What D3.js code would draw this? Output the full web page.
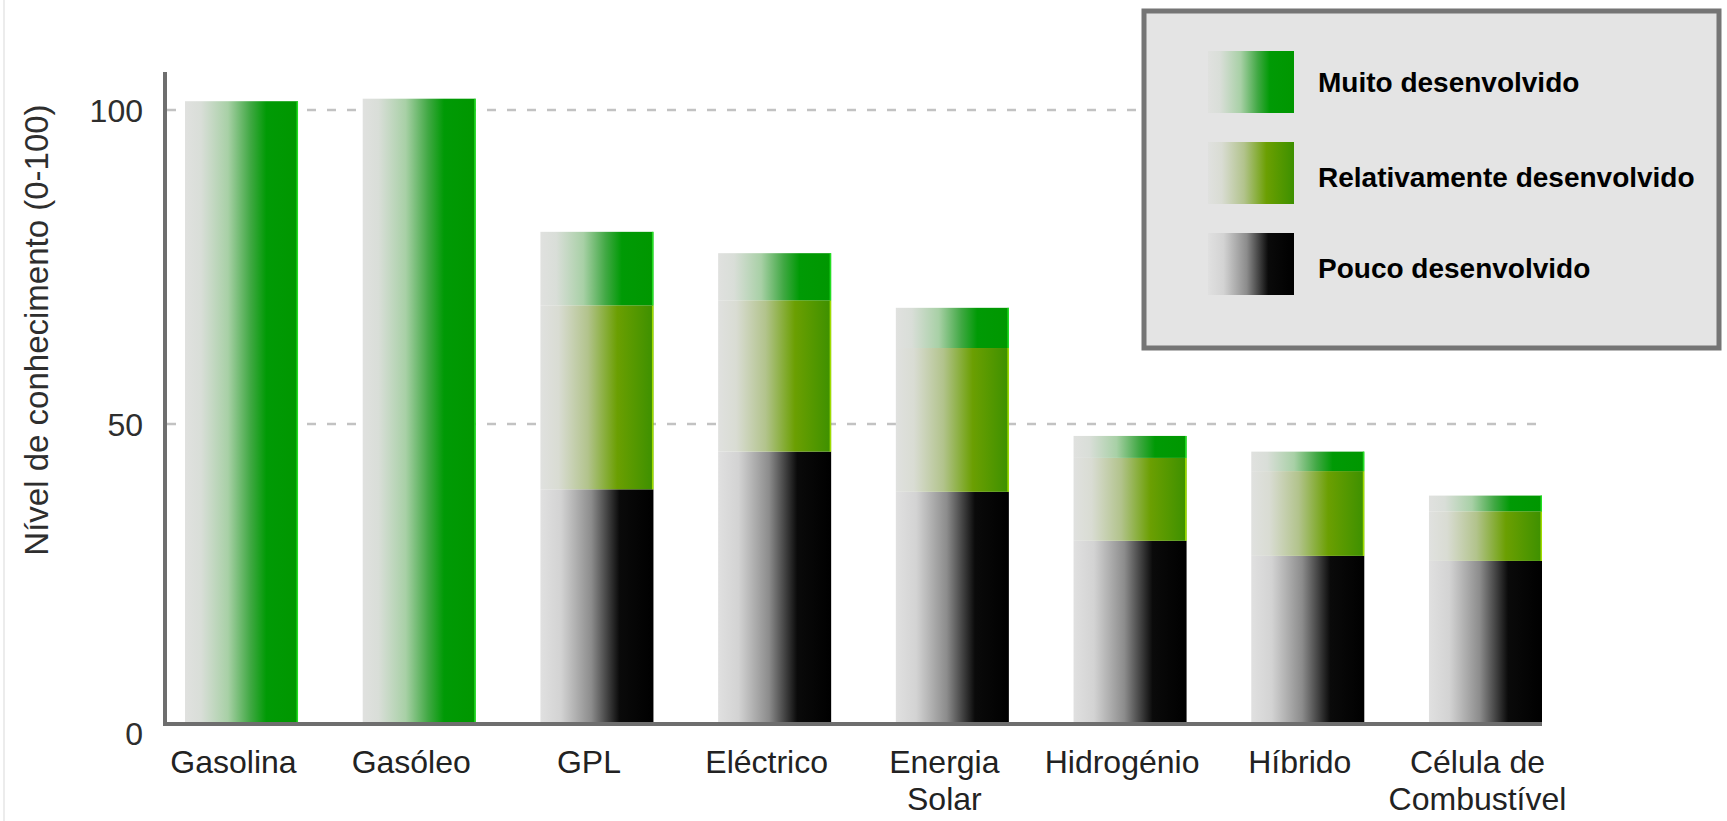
<!DOCTYPE html>
<html>
<head>
<meta charset="utf-8">
<script src="https://cdn.jsdelivr.net/npm/d3@7/dist/d3.min.js"></script>
<style>
  html, body { margin: 0; padding: 0; background: #ffffff; }
  svg { display: block; font-family: "Liberation Sans", Arial, sans-serif; }
</style>
</head>
<body>
<svg id="chart" width="1727" height="821"></svg>
<script>
// ---- data ----
const categories = ["Gasolina", "Gasóleo", "GPL", "Eléctrico", "Energia Solar", "Hidrogénio", "Híbrido", "Célula de Combustível"];
const categoryLines = [["Gasolina"], ["Gasóleo"], ["GPL"], ["Eléctrico"], ["Energia", "Solar"], ["Hidrogénio"], ["Híbrido"], ["Célula de", "Combustível"]];
const poucoDesenvolvido = [0, 0, 39.6, 45.6, 39.2, 31.4, 29.0, 28.2];
const relativamenteDesenvolvido = [0, 0, 29.3, 24.1, 22.9, 13.2, 13.5, 7.9];
const muitoDesenvolvido = [101.4, 101.8, 11.7, 7.5, 6.4, 3.5, 3.1, 2.5];
const seriesNames = ["Pouco desenvolvido", "Relativamente desenvolvido", "Muito desenvolvido"];
const legendOrder = ["Muito desenvolvido", "Relativamente desenvolvido", "Pouco desenvolvido"];
const yTicks = [0, 50, 100];
const yTitle = "Nível de conhecimento (0-100)";

// ---- setup ----
const svg = d3.select("#chart");
const W = 1727, H = 821;
const axisX = 165, baselineY = 724, axisTop = 72;
const plotRight = 1542;

const y = d3.scaleLinear().domain([0, 100]).range([738, 110]);
const x = d3.scaleBand().domain(categories).range([185, plotRight]).paddingInner(0.364).paddingOuter(0);

const rows = categories.map((c, i) => ({
  cat: c,
  "Pouco desenvolvido": poucoDesenvolvido[i],
  "Relativamente desenvolvido": relativamenteDesenvolvido[i],
  "Muito desenvolvido": muitoDesenvolvido[i]
}));
const stacked = d3.stack().keys(seriesNames)(rows);

// gradients
const defs = svg.append("defs");
const gradStops = {
  "Muito desenvolvido": [[0, "#e0e1df"], [0.14, "#d9ded8"], [0.38, "#a8d0a6"], [0.58, "#40a843"], [0.72, "#009a05"], [1, "#009700"]],
  "Relativamente desenvolvido": [[0, "#e0e1df"], [0.16, "#d9dcd3"], [0.42, "#b2c38c"], [0.68, "#6b9f02"], [0.84, "#549800"], [1, "#3d9000"]],
  "Pouco desenvolvido": [[0, "#e0e0e0"], [0.18, "#d3d3d3"], [0.45, "#8c8c8c"], [0.7, "#0a0a0a"], [1, "#000000"]]
};
const gradId = {};
seriesNames.forEach((s, i) => {
  const id = "grad" + i;
  gradId[s] = id;
  const g = defs.append("linearGradient").attr("id", id).attr("x1", 0).attr("x2", 1).attr("y1", 0).attr("y2", 0);
  gradStops[s].forEach(([o, c]) => g.append("stop").attr("offset", o).attr("stop-color", c));
});
const edgeColor = {
  "Muito desenvolvido": "#2bf02b",
  "Relativamente desenvolvido": "#b8f000",
  "Pouco desenvolvido": "#000000"
};

// faint left border
svg.append("line").attr("x1", 4).attr("x2", 4).attr("y1", 0).attr("y2", H)
  .attr("stroke", "#ececec").attr("stroke-width", 2);

// gridlines
svg.append("g").selectAll("line").data(yTicks.filter(t => t > 0)).join("line")
  .attr("x1", axisX + 2).attr("x2", plotRight)
  .attr("y1", d => y(d)).attr("y2", d => y(d))
  .attr("stroke", "#c2c2c2").attr("stroke-width", 2.5)
  .attr("stroke-dasharray", "9,11");

// bars
const segY0 = d => d[0] === 0 ? baselineY : y(d[0]);
const layers = svg.append("g").selectAll("g").data(stacked).join("g");
layers.selectAll("rect").data(d => d.map(v => Object.assign(v, { key: d.key }))).join("rect")
  .filter(d => d[1] - d[0] > 0)
  .attr("x", d => x(d.data.cat))
  .attr("width", x.bandwidth())
  .attr("y", d => y(d[1]))
  .attr("height", d => segY0(d) - y(d[1]))
  .attr("fill", d => `url(#${gradId[d.key]})`);
layers.selectAll("line.edge").data(d => d.filter(v => v[1] - v[0] > 0 && d.key !== "Pouco desenvolvido")).join("line")
  .attr("class", "edge")
  .attr("x1", d => x(d.data.cat) + x.bandwidth() - 0.75)
  .attr("x2", d => x(d.data.cat) + x.bandwidth() - 0.75)
  .attr("y1", d => y(d[1]))
  .attr("y2", d => segY0(d))
  .attr("stroke", d => edgeColor[d.key]).attr("stroke-width", 1.5).attr("opacity", 0.8);

// axes lines
svg.append("line").attr("x1", axisX).attr("x2", axisX).attr("y1", axisTop).attr("y2", baselineY + 2)
  .attr("stroke", "#6e6e6e").attr("stroke-width", 4);
svg.append("line").attr("x1", axisX - 2).attr("x2", plotRight).attr("y1", baselineY).attr("y2", baselineY)
  .attr("stroke", "#6e6e6e").attr("stroke-width", 4);

// y tick labels
svg.append("g").selectAll("text").data(yTicks).join("text")
  .attr("x", 143).attr("y", d => y(d) - (d === 0 ? 5 : 0))
  .attr("dy", "0.36em")
  .attr("text-anchor", "end")
  .attr("font-size", 32).attr("fill", "#2e2e2e")
  .text(d => d);

// y title
svg.append("text")
  .attr("transform", `translate(48,330) rotate(-90)`)
  .attr("text-anchor", "middle")
  .attr("font-size", 33).attr("fill", "#2e2e2e")
  .text(yTitle);

// x labels
const xl = svg.append("g").selectAll("text").data(categories).join("text")
  .attr("x", d => x(d) + x.bandwidth() / 2 - 8)
  .attr("y", 773)
  .attr("text-anchor", "middle")
  .attr("font-size", 32).attr("fill", "#222");
xl.each(function(d, i) {
  const t = d3.select(this);
  categoryLines[i].forEach((ln, j) => {
    t.append("tspan").attr("x", x(d) + x.bandwidth() / 2 - 8).attr("dy", j === 0 ? 0 : 37).text(ln);
  });
});

// legend
const lg = svg.append("g");
lg.append("rect").attr("x", 1144).attr("y", 11).attr("width", 575).attr("height", 337)
  .attr("fill", "#e4e4e4").attr("stroke", "#757575").attr("stroke-width", 5);
const legY = d3.scalePoint().domain(legendOrder).range([82, 264]);
legendOrder.forEach(s => {
  lg.append("rect").attr("x", 1208).attr("y", legY(s) - 31).attr("width", 86).attr("height", 62)
    .attr("fill", `url(#${gradId[s]})`);
  lg.append("text").attr("x", 1318).attr("y", legY(s) + (s === "Muito desenvolvido" ? 0 : 4)).attr("dy", "0.36em")
    .attr("font-size", 28).attr("font-weight", "bold").attr("fill", "#000")
    .text(s);
});
</script>
</body>
</html>
